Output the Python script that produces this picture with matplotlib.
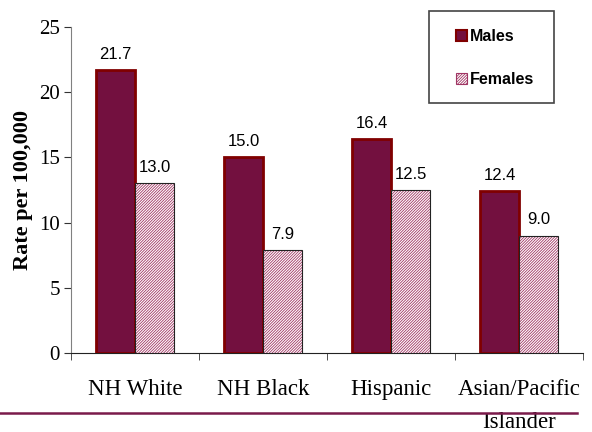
import matplotlib.pyplot as plt
import numpy as np
from matplotlib.lines import Line2D
from matplotlib.patches import Patch, Rectangle

groups = ['NH White', 'NH Black', 'Hispanic', 'Asian/Pacific\nIslander']
males = [21.7, 15.0, 16.4, 12.4]
females = [13.0, 7.9, 12.5, 9.0]
yticks = [0, 5, 10, 15, 20, 25]

male_fill = '#73103f'
male_edge = '#800000'
fem_hatch = '#a03563'

plt.rcParams['hatch.linewidth'] = 0.6

fig = plt.figure(figsize=(5.92, 4.32), dpi=100)
ax = fig.add_axes([71 / 592, 1 - 353 / 432, 512 / 592, 326 / 432])

x = np.arange(len(groups))
w = 0.305

ax.bar(x - w / 2, males, w, color=male_fill, edgecolor=male_edge, linewidth=2, zorder=3)
# hatched fill for females, then a thin black outline on top
ax.bar(x + w / 2, females, w, color='white', edgecolor=fem_hatch, hatch='////////////',
       linewidth=0, zorder=3)
ax.bar(x + w / 2, females, w, color='none', edgecolor='#222222', linewidth=0.8, zorder=4)

for i in range(len(groups)):
    ax.annotate('%.1f' % males[i], (x[i] - w / 2, males[i]), xytext=(0, 6),
                textcoords='offset points', ha='center', va='bottom',
                fontsize=12, family='Liberation Sans')
    ax.annotate('%.1f' % females[i], (x[i] + w / 2, females[i]), xytext=(0, 6),
                textcoords='offset points', ha='center', va='bottom',
                fontsize=12, family='Liberation Sans')

ax.set_xlim(-0.5, len(groups) - 0.5)
ax.set_ylim(0, 25)
ax.set_yticks(yticks)
ax.set_yticklabels([str(t) for t in yticks], family='Liberation Serif', fontsize=15)
ax.set_xticks(x)
ax.set_xticklabels(groups, family='Liberation Serif', fontsize=16.5, linespacing=1.7)
ax.tick_params(axis='x', length=0, pad=19)
ax.set_xticks(np.arange(len(groups) + 1) - 0.5, minor=True)
ax.tick_params(axis='x', which='minor', length=5, direction='out', color='#333333')
ax.tick_params(axis='y', length=5, direction='out', color='#333333', pad=3)

ax.spines['top'].set_visible(False)
ax.spines['right'].set_visible(False)
ax.spines['left'].set_color('#808080')
ax.spines['bottom'].set_color('#222222')

ax.set_ylabel('Rate per 100,000', family='Liberation Serif', fontweight='bold',
              fontsize=16, labelpad=4)

# legend frame
fig.add_artist(Rectangle((429 / 592, 1 - 103 / 432), 125 / 592, 92 / 432,
                         transform=fig.transFigure, facecolor='white',
                         edgecolor='#444444', linewidth=1.2, zorder=5))
handles = [
    Patch(facecolor=male_fill, edgecolor=male_edge, linewidth=1.5),
    Patch(facecolor='white', edgecolor=fem_hatch, hatch='////////////', linewidth=0.8),
]
leg = fig.legend(handles, ['Males', 'Females'], loc='upper left',
                 bbox_to_anchor=(456 / 592, 1 - 29 / 432),
                 prop={'family': 'Liberation Sans', 'weight': 'bold', 'size': 11.5},
                 handlelength=0.7, handleheight=0.7, handletextpad=0.15,
                 labelspacing=1.75, borderpad=0, borderaxespad=0, frameon=False)
leg.set_zorder(6)

fig.add_artist(Line2D([0, 577 / 592], [1 - 413 / 432, 1 - 413 / 432],
                      color='#7a1a4a', linewidth=1.8))

plt.savefig('out.png')
